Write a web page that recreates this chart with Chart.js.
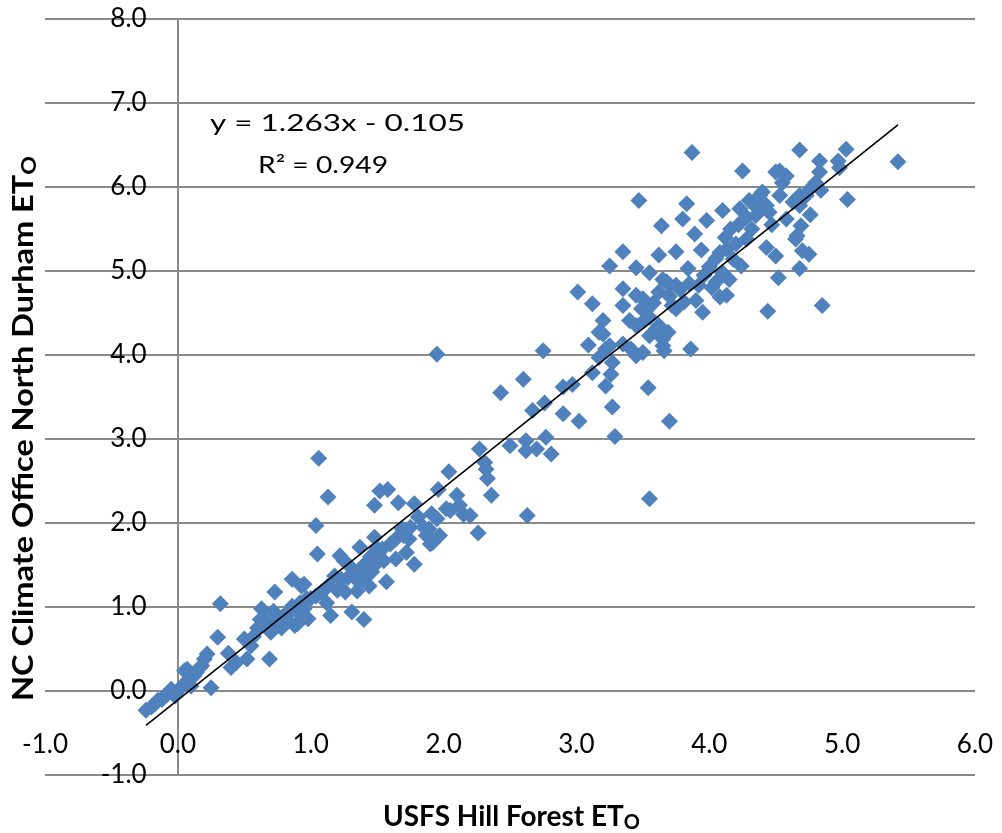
<!DOCTYPE html>
<html>
<head>
<meta charset="utf-8">
<title>Hill Forest vs North Durham ETo</title>
<script src="https://cdn.jsdelivr.net/npm/chart.js@4.4.1/dist/chart.umd.min.js"></script>
<style>
  html, body { margin: 0; padding: 0; background: #fff; }
  #wrap { width: 1002px; height: 833px; }
</style>
</head>
<body>
<div id="wrap"><canvas id="chart" width="1002" height="833"></canvas></div>
<script>
// daily reference ET (mm)
const hillForestEto = [
  -0.24, -0.20, -0.17, -0.15, -0.12, -0.10, -0.08, -0.05, -0.04, -0.02,
  0.00, 0.02, 0.05, 0.06, 0.08, 0.10, 0.12, 0.14, 0.16, 0.18,
  0.20, 0.22, 0.25, 0.30, 0.32, 0.38, 0.40, 0.44, 0.50, 0.52,
  0.55, 0.57, 0.60, 0.62, 0.63, 0.65, 0.68, 0.69, 0.70, 0.72,
  0.73, 0.75, 0.78, 0.80, 0.82, 0.85, 0.86, 0.86, 0.88, 0.90,
  0.92, 0.93, 0.93, 0.95, 0.97, 0.98, 0.95, 0.07,
  1.00, 1.04, 1.05, 1.04, 1.06, 1.13, 1.08, 1.10, 1.12, 1.13,
  1.15, 1.18, 1.20, 1.22, 1.25, 1.23, 1.26, 1.29, 1.31, 1.35,
  1.37, 1.40, 1.40, 1.45, 1.46, 1.48, 1.48, 1.49, 1.50, 1.52,
  1.54, 1.55, 1.57, 1.58, 1.60, 1.64, 1.64, 1.66, 1.69, 1.70,
  1.72, 1.74, 1.75, 1.78, 1.78, 1.81, 1.85, 1.87, 1.89, 1.90,
  1.91, 1.92, 1.95, 1.95, 1.96, 1.97, 2.02, 2.04, 2.05, 2.10,
  2.12, 2.15, 2.20, 2.26, 2.27, 2.31, 2.32, 2.33, 2.36, 1.28,
  1.33, 1.36, 1.42, 1.44, 1.47,
  2.43, 2.50, 2.60, 2.62, 2.62, 2.63, 2.67, 2.70, 2.75, 2.76,
  2.77, 2.81, 2.90, 2.90, 2.97, 3.01, 3.02,
  3.09, 3.12, 3.12, 3.17, 3.17, 3.20, 3.20, 3.22, 3.22, 3.25,
  3.25, 3.26, 3.27, 3.27, 3.29, 3.35, 3.35, 3.35, 3.35, 3.40,
  3.41, 3.45, 3.45, 3.45, 3.45, 3.47, 3.49, 3.50, 3.50, 3.51,
  3.52, 3.54, 3.55, 3.55, 3.55, 3.60, 3.62, 3.62, 3.62, 3.64,
  3.65, 3.65, 3.65, 3.66, 3.68, 3.69, 3.70, 3.70, 3.72, 3.75,
  3.75, 3.75, 3.80, 3.81, 3.83, 3.84, 3.86, 3.87, 3.89, 3.90,
  3.92, 3.94, 3.95, 3.98, 3.55, 3.58, 3.70, 3.78, 3.85, 3.96,
  4.05, 4.08, 4.08, 4.10, 4.10, 4.13, 4.13, 4.15, 4.18, 4.20,
  4.23, 4.24, 4.25, 4.28, 4.28, 4.30, 4.35, 4.38, 4.40, 4.43,
  4.43, 4.44, 4.50, 4.50, 4.52, 4.53, 4.53, 4.55, 4.58, 4.58,
  4.63, 4.65, 4.66, 4.68, 4.68, 4.68, 4.68, 4.69, 4.70, 4.73,
  4.75, 4.76, 4.76, 4.80, 4.83, 4.83, 4.84, 4.85, 4.97, 4.98,
  5.03, 5.04, 5.42, 4.00, 4.05, 4.12, 4.16, 4.22, 4.32, 4.36,
  4.45, 4.47, 4.02
];
const durhamEto = [
  -0.23, -0.19, -0.15, -0.11, -0.10, -0.06, -0.04, 0.02, -0.03, -0.06,
  0.00, 0.04, 0.24, 0.10, 0.14, 0.06, 0.18, 0.22, 0.27, 0.30,
  0.38, 0.44, 0.04, 0.64, 1.04, 0.45, 0.28, 0.34, 0.62, 0.38,
  0.54, 0.65, 0.75, 0.85, 0.98, 0.86, 0.80, 0.38, 0.70, 0.95,
  1.18, 0.82, 0.75, 0.90, 0.85, 0.95, 1.33, 1.01, 0.78, 0.80,
  1.05, 1.25, 0.90, 0.98, 1.10, 0.86, 1.27, 0.26,
  1.10, 1.13, 1.63, 1.97, 2.77, 2.31, 1.18, 1.20, 1.05, 1.25,
  0.90, 1.37, 1.20, 1.61, 1.55, 1.33, 1.18, 1.49, 0.94, 1.19,
  1.71, 0.85, 1.50, 1.60, 1.42, 1.83, 2.21, 1.57, 1.70, 2.38,
  1.69, 1.55, 1.30, 2.40, 1.75, 1.81, 1.57, 2.24, 1.93, 1.85,
  1.65, 1.81, 1.95, 2.23, 1.51, 2.07, 1.95, 1.85, 1.93, 1.75,
  2.11, 1.77, 4.01, 2.05, 2.40, 1.85, 2.17, 2.61, 2.15, 2.33,
  2.21, 2.10, 2.09, 1.88, 2.88, 2.72, 2.64, 2.53, 2.33, 1.35,
  1.42, 1.30, 1.38, 1.25, 1.48,
  3.55, 2.92, 3.71, 2.98, 2.86, 2.09, 3.34, 2.88, 4.05, 3.43,
  3.02, 2.82, 3.30, 3.62, 3.65, 4.75, 3.21,
  4.12, 4.61, 3.79, 3.97, 4.27, 4.41, 4.25, 4.07, 3.63, 5.06,
  4.11, 3.77, 3.91, 3.38, 3.03, 4.79, 4.59, 4.13, 5.23, 4.41,
  4.07, 5.04, 4.35, 4.71, 3.99, 5.84, 4.55, 4.03, 4.67, 4.41,
  4.52, 3.61, 4.23, 4.98, 2.29, 4.31, 4.35, 4.75, 5.19, 5.54,
  4.11, 4.90, 4.19, 4.05, 4.87, 4.27, 4.83, 3.21, 4.59, 4.55,
  5.23, 4.83, 5.62, 4.63, 5.80, 5.03, 4.07, 6.41, 5.44, 4.65,
  4.83, 5.25, 4.51, 5.60, 4.45, 4.62, 4.70, 4.78, 4.85, 4.95,
  4.87, 5.22, 4.69, 5.72, 4.98, 5.26, 4.71, 4.90, 5.14, 5.32,
  5.74, 5.06, 6.19, 5.64, 5.38, 5.84, 5.66, 5.90, 5.94, 5.78,
  5.28, 4.52, 6.18, 5.18, 4.92, 6.19, 5.90, 6.05, 6.13, 5.62,
  5.82, 5.38, 5.42, 6.44, 5.90, 5.78, 5.03, 5.54, 5.24, 5.90,
  5.20, 5.98, 5.67, 6.05, 6.31, 6.18, 5.96, 4.59, 6.31, 6.23,
  6.45, 5.85, 6.30, 5.05, 5.15, 5.40, 5.50, 5.55, 5.50, 5.75,
  5.70, 5.55, 4.80
];

// linear trendline as drawn, ends at the data's x range
const trendX = [-0.24, 5.42];
const trendY = [-0.41, 6.74];

const xTicks = [-1, 0, 1, 2, 3, 4, 5, 6];
const yTicks = [-1, 0, 1, 2, 3, 4, 5, 6, 7, 8];

const xTitle = 'USFS Hill Forest ET';
const yTitle = 'NC Climate Office North Durham ET';
const titleSub = 'O';
const equationText = ['y = 1.263x - 0.105', 'R\u00B2 = 0.949'];

const gridGrey = '#8a8a8a';
const markerBlue = '#4F81BD';

// draws text (+ optional subscript) squeezed/stretched to a given width
function drawFitted(ctx, main, sub, x, y, width, font, subFont, drop) {
  ctx.font = font;
  const w1 = ctx.measureText(main).width;
  let w2 = 0;
  if (sub) {
    ctx.font = subFont;
    w2 = ctx.measureText(sub).width;
  }
  ctx.save();
  ctx.translate(x, y);
  ctx.scale(width / (w1 + w2), 1);
  ctx.textAlign = 'left';
  ctx.textBaseline = 'alphabetic';
  ctx.font = font;
  ctx.fillText(main, 0, 0);
  if (sub) {
    ctx.font = subFont;
    ctx.fillText(sub, w1, drop);
  }
  ctx.restore();
}

const titlesPlugin = {
  id: 'titles',
  afterDraw(chart) {
    const ctx = chart.ctx;
    ctx.save();
    ctx.fillStyle = '#000';
    drawFitted(ctx, xTitle, titleSub, 383, 826, 257, 'bold 28px Lato', 'bold 20px Lato', 3);

    ctx.save();
    ctx.translate(33, 701);
    ctx.rotate(-Math.PI / 2);
    drawFitted(ctx, yTitle, titleSub, 0, 0, 545, 'bold 28px Lato', 'bold 20px Lato', 3);
    ctx.restore();

    drawFitted(ctx, equationText[0], '', 210, 131, 255, '23px Lato');
    drawFitted(ctx, equationText[1], '', 258, 173, 130, '23px Lato');
    ctx.restore();
  }
};

const points = hillForestEto.map((x, i) => ({ x: x, y: durhamEto[i] }));
const trend = trendX.map((x, i) => ({ x: x, y: trendY[i] }));

new Chart(document.getElementById('chart'), {
  type: 'scatter',
  data: {
    datasets: [
      {
        type: 'line',
        label: 'Linear trend',
        data: trend,
        borderColor: '#000',
        borderWidth: 1.6,
        pointRadius: 0,
        fill: false
      },
      {
        label: 'ETo',
        data: points,
        pointStyle: 'rectRot',
        pointRadius: 8.5,
        backgroundColor: markerBlue,
        borderColor: markerBlue,
        borderWidth: 0
      }
    ]
  },
  options: {
    responsive: false,
    animation: false,
    devicePixelRatio: 1,
    layout: { padding: { left: 45, right: 27, top: 19, bottom: 58 } },
    plugins: {
      legend: { display: false },
      tooltip: { enabled: false }
    },
    scales: {
      x: {
        type: 'linear',
        position: { y: 0 },
        min: -1,
        max: 6,
        afterBuildTicks: (scale) => { scale.ticks = xTicks.map(v => ({ value: v })); },
        // only the zero line is drawn, it stands in for the vertical axis
        grid: {
          display: true,
          color: (c) => (c.tick && c.tick.value === 0 ? gridGrey : 'transparent'),
          lineWidth: 2,
          tickColor: 'transparent',
          drawTicks: true,
          tickLength: 38
        },
        border: { display: false },
        ticks: {
          padding: 0,
          autoSkip: false,
          maxRotation: 0,
          color: '#000',
          font: { family: 'Lato', size: 26 },
          callback: (v) => Number(v).toFixed(1)
        }
      },
      y: {
        type: 'linear',
        // labels sit a little left of the x = 0 line
        position: { x: -0.235 },
        min: -1,
        max: 8,
        afterBuildTicks: (scale) => { scale.ticks = yTicks.map(v => ({ value: v })); },
        grid: { color: gridGrey, lineWidth: 2, drawTicks: false },
        border: { display: false },
        ticks: {
          padding: 0,
          autoSkip: false,
          color: '#000',
          font: { family: 'Lato', size: 26 },
          callback: (v) => Number(v).toFixed(1)
        }
      }
    }
  },
  plugins: [titlesPlugin]
});
</script>
</body>
</html>
